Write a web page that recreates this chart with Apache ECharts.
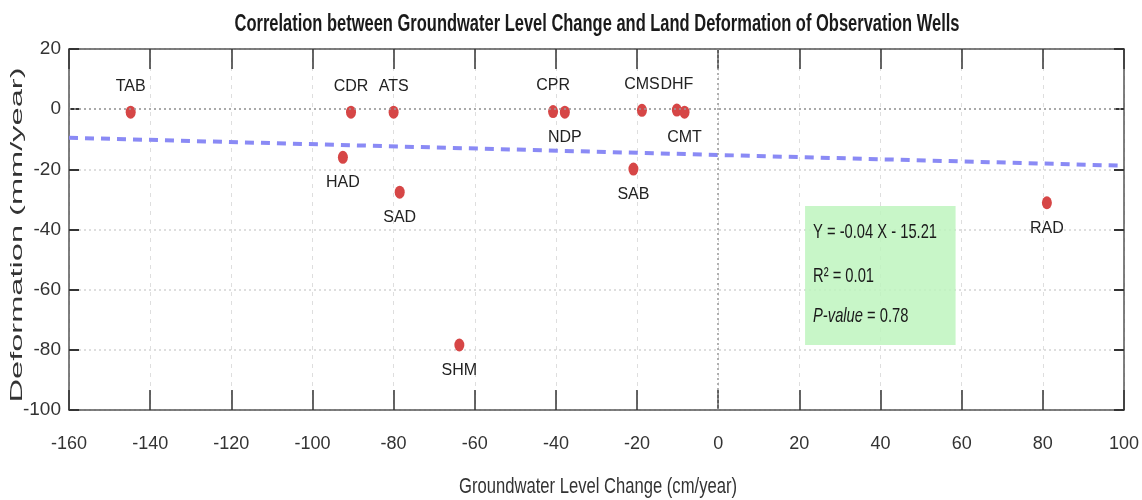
<!DOCTYPE html>
<html><head><meta charset="utf-8">
<script src="https://cdn.jsdelivr.net/npm/echarts@6/dist/echarts.min.js"></script>
<style>html,body{margin:0;padding:0;background:#fff}#c{width:1142px;height:500px}</style>
</head><body><div id="c"></div>
<script>
// ---- data ----
const wellNames = ['TAB','CDR','ATS','HAD','SAD','SHM','CPR','NDP','SAB','CMS','DHF','CMT','RAD'];
const groundwaterChange = [-144.8,-90.5,-80.0,-92.5,-78.5,-63.8,-40.7,-37.8,-20.9,-18.8,-10.2,-8.3,81.0];
const deformation = [-1.0,-1.0,-1.0,-16.0,-27.6,-78.4,-0.8,-1.0,-19.9,-0.4,-0.3,-1.0,-31.1];
const labelSide = ['top','top','top','bottom','bottom','bottom','top','bottom','bottom','top','top','bottom','bottom'];
const fitLineX = [-160, 100];
const fitLineY = [-9.5, -18.8];
const xRange = [-160, 100, 20];
const yRange = [-100, 20, 20];
const statsLines = ['Y = -0.04 X - 15.21', 'R\u00B2 = 0.01', 'P-value', ' = 0.78'];
const statsBoxX = [21.4, 58.5];
const statsBoxY = [-32.2, -78.4];
const titleText = 'Correlation between Groundwater Level Change and Land Deformation of Observation Wells';
const xName = 'Groundwater Level Change (cm/year)';
const yName = 'Deformation (mm/year)';

const SANS = '"Liberation Sans", Arial, Helvetica, sans-serif';

function measure(text, font) {
  const c = document.createElement('canvas').getContext('2d');
  c.font = font;
  return c.measureText(text).width;
}
const titleFont = 'bold 23px ' + SANS;
const titleScale = 725 / measure(titleText, titleFont);
const yNameFont = '18px ' + SANS;
const yNameScale = 335 / measure(yName, yNameFont);
const xNameFont = '22px ' + SANS;
const xNameScale = 278 / measure(xName, xNameFont);
const statsFont = '21px ' + SANS;
const statsScale = 124 / measure(statsLines[0], statsFont);

const chart = echarts.init(document.getElementById('c'));
const tickColor = '#333';
const axisLineStyle = {color: '#555', width: 1.5};

const scatterData = wellNames.map((n, i) => ({
  name: n,
  value: [groundwaterChange[i], deformation[i]],
  label: {position: labelSide[i]}
}));

function centeredText(id, text, font, x, y, sx, sy, rot, fill) {
  return {id: id, type: 'text', x: x, y: y, scaleX: sx, scaleY: sy, rotation: rot || 0, silent: true,
    style: {text: text, x: 0, y: 0, font: font, fill: fill,
      align: 'center', verticalAlign: 'middle', textAlign: 'center', textVerticalAlign: 'middle'}};
}

chart.setOption({
  animation: false,
  backgroundColor: '#fff',
  grid: {left: 69, right: 14, top: 49, bottom: 90},
  graphic: [
    centeredText('title', titleText, titleFont, 597, 25, titleScale, 1, 0, '#1a1a1a'),
    centeredText('yname', yName, yNameFont, 17.5, 235, yNameScale, 0.9, Math.PI / 2, '#333'),
    centeredText('xname', xName, xNameFont, 598, 487, xNameScale, 1, 0, '#333')
  ],
  xAxis: [
    {type: 'value', min: xRange[0], max: xRange[1], interval: xRange[2], position: 'bottom',
     axisLine: {show: true, onZero: false, lineStyle: axisLineStyle},
     axisTick: {show: true, inside: true, length: 20, lineStyle: {color: tickColor, width: 1.5}},
     axisLabel: {fontFamily: SANS, fontSize: 18, color: '#333', margin: 25},
     splitLine: {show: true, lineStyle: {color: '#dedede', type: [4, 5], width: 1}}},
    {type: 'value', min: xRange[0], max: xRange[1], interval: xRange[2], position: 'top',
     axisLine: {show: true, onZero: false, lineStyle: axisLineStyle},
     axisTick: {show: true, inside: true, length: 20, lineStyle: {color: tickColor, width: 1.5}},
     axisLabel: {show: false}, splitLine: {show: false}}
  ],
  yAxis: [
    {type: 'value', min: yRange[0], max: yRange[1], interval: yRange[2], position: 'left',
     axisLine: {show: true, onZero: false, lineStyle: axisLineStyle},
     axisTick: {show: true, inside: true, length: 10, lineStyle: {color: tickColor, width: 2}},
     axisLabel: {fontFamily: SANS, fontSize: 19, color: '#333', margin: 8},
     splitLine: {show: true, lineStyle: {color: '#d4d4d4', type: [2, 3], width: 1.5}}},
    {type: 'value', min: yRange[0], max: yRange[1], interval: yRange[2], position: 'right',
     axisLine: {show: true, onZero: false, lineStyle: axisLineStyle},
     axisTick: {show: true, inside: true, length: 10, lineStyle: {color: tickColor, width: 2}},
     axisLabel: {show: false}, splitLine: {show: false}}
  ],
  series: [
    {type: 'line', xAxisIndex: 0, yAxisIndex: 0, showSymbol: false, symbol: 'none', silent: true,
     data: fitLineX.map((x, i) => [x, fitLineY[i]]),
     lineStyle: {color: '#8a8af5', width: 4, type: [9, 7]},
     markArea: {silent: true,
       itemStyle: {color: 'rgba(190,245,190,0.85)'},
       label: {show: false},
       data: [[{coord: [statsBoxX[0], statsBoxY[0]]}, {coord: [statsBoxX[1], statsBoxY[1]]}]]},
     markLine: {silent: true, symbol: 'none', label: {show: false},
       lineStyle: {color: '#999', type: [2, 3], width: 1.5},
       data: [{xAxis: 0}, {yAxis: 0}]}
    },
    {type: 'scatter', xAxisIndex: 0, yAxisIndex: 0, data: scatterData,
     symbol: 'circle', symbolSize: [10, 13],
     itemStyle: {color: '#d64646', opacity: 1},
     label: {show: true, formatter: '{b}', distance: 11, fontFamily: SANS, fontSize: 16, color: '#222'}}
  ]
});

// stats text placed at the box's top-left corner, found through the chart's own scales
const boxTL = chart.convertToPixel({xAxisIndex: 0, yAxisIndex: 0}, [statsBoxX[0], statsBoxY[0]]);
const lineOffsets = [26, 70, 110];
const statsTexts = [
  '{n|' + statsLines[0] + '}',
  '{n|' + statsLines[1] + '}',
  '{i|' + statsLines[2] + '}{n|' + statsLines[3] + '}'
];
chart.setOption({
  graphic: statsTexts.map((t, k) => ({
    id: 'stats' + k, type: 'text', silent: true, z: 10,
    x: boxTL[0] + 8, y: boxTL[1] + lineOffsets[k], scaleX: statsScale, scaleY: 1,
    style: {text: t, x: 0, y: 0, align: 'left', verticalAlign: 'middle', textAlign: 'left', textVerticalAlign: 'middle',
      rich: {
        n: {fontFamily: SANS, fontSize: 21, fill: '#1a1a1a', color: '#1a1a1a'},
        i: {fontFamily: SANS, fontSize: 21, fill: '#1a1a1a', color: '#1a1a1a', fontStyle: 'italic'}
      }}
  }))
});
</script></body></html>
